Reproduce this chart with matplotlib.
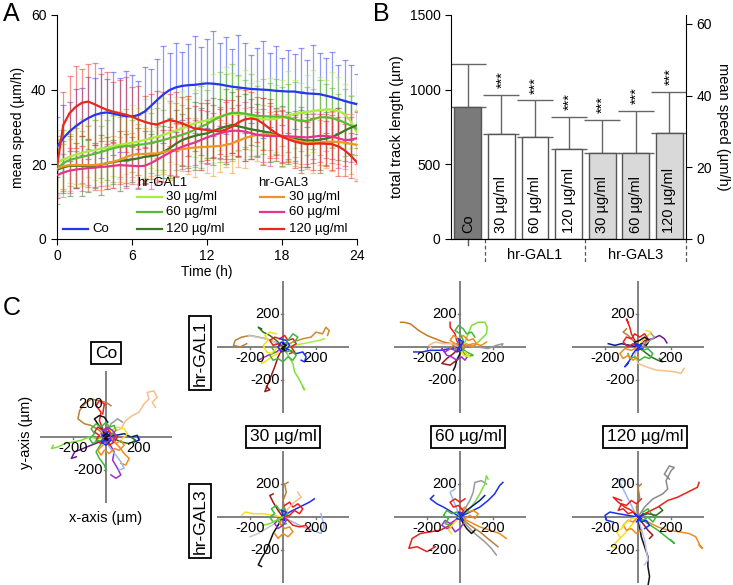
import numpy as np
import matplotlib
matplotlib.use("Agg")
import matplotlib.pyplot as plt

plt.rcParams['font.family'] = ['Liberation Sans', 'DejaVu Sans']
plt.rcParams['font.size'] = 10

W, H = 733, 585

# ---------------- panel A: mean speed over time ----------------
time_h = np.arange(0, 24.5, 0.5)

co_mean = [24.7, 27.0, 28.8, 30.2, 31.4, 32.4, 33.2, 33.7, 33.9, 33.6,
           33.2, 32.9, 32.8, 33.2, 34.1, 35.6, 37.2, 38.7, 39.9, 40.6,
           41.0, 41.2, 41.3, 41.5, 41.7, 41.6, 41.4, 41.1, 40.8, 40.6,
           40.4, 40.2, 40.1, 40.0, 39.9, 39.7, 39.6, 39.5, 39.5, 39.2,
           39.0, 38.9, 38.8, 38.4, 38.0, 37.5, 37.0, 36.5, 36.1]
co_sd = [8, 9, 8, 10, 9, 11, 10, 12, 9, 11, 10, 12, 11, 9, 12, 10, 11, 13, 10, 12,
         9, 11, 13, 10, 12, 14, 11, 13, 10, 14, 12, 9, 11, 13, 10, 12, 9, 11, 10, 12,
         9, 13, 11, 10, 12, 9, 11, 10, 8]

g1_30_mean = [20.3, 21.3, 22.0, 22.6, 23.1, 23.5, 23.8, 24.2, 24.5, 24.9,
              25.2, 25.5, 25.8, 26.1, 26.5, 26.9, 27.4, 27.9, 28.5, 29.0,
              29.6, 30.3, 31.0, 31.4, 31.8, 32.3, 32.8, 33.2, 33.5, 33.6,
              33.4, 32.9, 32.4, 32.1, 32.0, 32.2, 32.6, 33.1, 33.5, 33.8,
              34.0, 34.3, 34.5, 34.7, 34.7, 34.3, 33.5, 31.5, 28.5]
g1_30_sd = [9, 8, 7, 8, 9, 7, 8, 9, 10, 8, 9, 8, 10, 9, 11, 8, 9, 10, 8, 9,
            10, 8, 9, 11, 10, 12, 9, 13, 11, 10, 12, 9, 10, 8, 11, 9, 10, 12, 9, 8,
            10, 11, 9, 8, 10, 9, 8, 7, 6]

g1_60_mean = [18.9, 20.3, 21.2, 21.6, 22.0, 22.4, 22.8, 23.3, 23.8, 24.3,
              24.7, 24.9, 25.0, 25.2, 25.4, 25.7, 26.1, 26.5, 27.0, 27.4,
              27.9, 28.5, 29.2, 30.0, 30.8, 31.8, 32.6, 33.3, 33.8, 33.8,
              33.6, 33.3, 33.0, 32.9, 32.8, 32.8, 32.8, 32.4, 32.0, 31.6,
              31.6, 32.1, 32.6, 32.6, 32.4, 31.9, 31.2, 30.4, 29.5]
g1_60_sd = [8, 9, 7, 8, 7, 8, 9, 7, 8, 9, 8, 10, 7, 8, 9, 8, 9, 8, 10, 9,
            8, 9, 10, 11, 9, 10, 12, 11, 13, 10, 9, 11, 8, 10, 9, 10, 8, 9, 10, 8,
            9, 8, 10, 9, 8, 7, 9, 8, 7]

g1_120_mean = [18.5, 19.2, 19.6, 19.6, 19.6, 19.6, 19.6, 19.9, 20.3, 20.6,
               20.9, 21.1, 21.3, 21.6, 22.0, 22.2, 22.5, 23.3, 24.3, 25.5,
               26.5, 27.1, 27.6, 28.0, 28.3, 28.9, 29.6, 30.1, 30.5, 30.2,
               29.8, 29.4, 29.1, 28.8, 28.5, 28.0, 27.5, 27.1, 26.8, 26.6,
               26.4, 26.4, 26.6, 26.9, 27.3, 28.1, 29.0, 29.8, 30.5]
g1_120_sd = [9, 7, 8, 6, 8, 7, 6, 8, 7, 6, 8, 7, 6, 8, 7, 6, 8, 7, 8, 9,
             7, 8, 9, 7, 8, 9, 8, 10, 9, 8, 9, 8, 7, 9, 8, 7, 8, 7, 6, 8,
             7, 6, 8, 7, 6, 7, 8, 7, 6]

g3_30_mean = [18.9, 19.5, 19.8, 19.8, 19.8, 19.8, 19.8, 20.0, 20.3, 20.7,
              21.2, 21.9, 22.5, 22.7, 22.8, 22.9, 22.9, 23.3, 23.7, 23.9,
              24.1, 24.3, 24.5, 24.6, 24.7, 24.8, 24.9, 25.2, 25.6, 26.3,
              27.0, 27.5, 27.9, 28.0, 28.1, 27.8, 27.4, 27.0, 26.5, 26.1,
              25.8, 25.8, 25.9, 26.0, 26.1, 26.0, 25.8, 25.5, 25.2]
g3_30_sd = [7, 6, 7, 6, 5, 7, 6, 7, 6, 7, 6, 7, 6, 8, 7, 6, 7, 6, 8, 7,
            6, 7, 8, 6, 7, 8, 7, 6, 8, 7, 8, 6, 7, 8, 6, 7, 8, 6, 7, 6,
            7, 8, 6, 7, 8, 6, 7, 8, 9]

g3_60_mean = [17.1, 17.8, 18.3, 18.6, 18.8, 19.0, 19.1, 19.3, 19.4, 19.6,
              19.8, 19.7, 19.6, 19.5, 19.6, 20.3, 21.2, 22.2, 23.1, 24.0,
              24.7, 25.3, 25.8, 26.5, 27.2, 27.8, 28.3, 28.7, 29.0, 29.0,
              28.8, 28.4, 27.9, 27.7, 27.6, 27.6, 27.6, 27.5, 27.4, 27.3,
              27.2, 27.4, 27.6, 27.6, 27.4, 27.0, 26.5, 26.6, 27.0]
g3_60_sd = [6, 5, 6, 5, 6, 5, 6, 5, 6, 6, 5, 6, 5, 6, 5, 7, 6, 7, 6, 7,
            6, 7, 6, 8, 7, 6, 7, 8, 6, 7, 8, 7, 6, 7, 8, 6, 7, 6, 7, 8,
            7, 6, 7, 6, 7, 8, 7, 6, 7]

g3_120_mean = [19.4, 30.5, 33.7, 35.4, 36.5, 36.8, 36.1, 35.3, 34.6, 34.1,
               33.7, 33.3, 32.8, 32.0, 31.4, 30.9, 30.7, 31.3, 31.9, 31.5,
               31.0, 30.3, 29.6, 29.4, 29.2, 29.0, 28.8, 29.3, 30.1, 31.2,
               32.0, 32.3, 32.0, 30.9, 29.6, 28.4, 27.4, 26.7, 26.1, 25.7,
               25.4, 25.5, 25.6, 25.5, 25.4, 24.8, 23.8, 22.3, 20.5]
g3_120_sd = [7, 9, 10, 11, 9, 10, 11, 9, 10, 8, 9, 10, 8, 9, 7, 8, 9, 8, 7, 8,
             7, 8, 6, 7, 8, 7, 6, 8, 7, 9, 8, 7, 6, 7, 8, 6, 7, 6, 7, 8,
             6, 7, 8, 6, 7, 8, 7, 6, 5]

conc_labels = ["30 µg/ml", "60 µg/ml", "120 µg/ml"]

# ---------------- panel B: total track length ----------------
bar_labels = ["Co", "30 µg/ml", "60 µg/ml", "120 µg/ml",
              "30 µg/ml", "60 µg/ml", "120 µg/ml"]
track_len = [885, 705, 685, 600, 578, 578, 712]
track_sd = [285, 262, 243, 220, 220, 280, 273]
group_names = ["hr-GAL1", "hr-GAL3"]

# ---------------- panel C: cell tracks (x, y pairs in µm) ----------------
tracks_co = [
    [0, 0, 40, 30, 90, 50, 120, 100, 160, 130, 200, 150, 230, 200, 260, 230, 250, 270, 290, 280, 310, 240, 280, 210, 300, 180],
    [0, 0, -40, 40, -90, 70, -130, 80, -170, 110, -160, 160, -130, 200, -90, 230, -40, 220, 0, 210, 30, 190],
    [0, 0, -20, 50, -40, 100, -30, 150, -60, 190, -40, 220, -10, 200, -20, 140],
    [0, 0, -50, -10, -100, 0, -150, -20, -200, -30, -250, -40, -290, -60, -330, -70, -320, -50],
    [0, 0, 20, -40, 50, -90, 40, -140, 70, -190, 90, -230, 60, -250, 30, -230],
    [0, 0, 40, -20, 80, -60, 110, -100, 140, -130, 120, -170, 90, -160],
    [0, 0, -40, -30, -90, -50, -140, -70, -190, -90, -210, -130, -180, -120],
    [0, 0, 20, -60, 60, -110, 90, -150, 110, -190, 80, -200],
    [0, 0, 60, 10, 110, 20, 150, 0, 190, 10, 200, -20, 170, -30],
    [0, 0, -20, 40, -50, 80, -70, 110, -40, 130, -10, 120, 10, 90],
    [0, 0, 30, 40, 70, 60, 110, 50, 130, 20, 100, -10],
    [0, 0, 50, -10, 90, -30, 140, -40, 180, -20, 150, 0],
    [0, 0, -30, -40, -60, -90, -40, -130, -10, -170, 0, -200],
    [0, 0, 30, 80, 70, 110, 100, 90],
    [0, 0, 30, 20, 10, 50, -20, 40, -50, 60, -70, 30, -40, 10, -60, -20, -30, -40, 0, -20, 20, -50, 50, -30, 70, 0, 40, 20],
    [0, 0, -20, -30, -50, -20, -80, -40, -100, -10, -70, 20, -90, 50, -60, 80, -30, 60, 0, 90, 20, 60, 50, 70, 60, 40, 30, 10],
    [0, 0, 40, -10, 60, -40, 90, -20, 110, -50, 80, -80, 50, -70, 20, -100, -10, -80, -30, -110, -50, -80, -20, -50],
    [0, 0, -30, 20, -10, -30, 30, -20, 20, 30, -20, 40, 10, 60, 40, 40, 60, 10, 40, -30],
    [0, 0, -20, 10, 10, 30, -10, -20, 20, -10, -30, -30, 0, -50, 30, -20],
    [0, 0, 10, -20, -10, -10, 20, 10, 0, 20, -15, 5],
]
tracks_g1_30 = [
    [0, 0, -50, 30, -100, 50, -150, 60, -200, 70, -250, 60, -290, 40, -300, 10, -260, 0, -220, 20],
    [0, 0, 60, 30, 120, 50, 170, 60, 200, 90, 240, 80, 260, 120, 280, 100, 270, 70],
    [0, 0, 30, -50, 60, -100, 70, -150, 100, -200, 130, -260, 120, -240],
    [0, 0, 60, 10, 120, 20, 170, 30, 220, 40, 250, 50],
    [0, 0, -30, -60, -50, -120, -70, -170, -90, -220, -110, -270, -80, -260, -100, -240],
    [0, 0, -40, 40, -80, 70, -120, 90, -150, 120, -130, 110],
    [0, 0, 40, -20, 80, -40, 120, -30, 140, -60, 130, -90, 110, -80],
    [0, 0, -40, -30, -90, -50, -130, -70, -150, -80],
    [0, 0, -30, -40, -70, -60, -110, -90, -130, -100, -120, -60],
    [0, 0, -50, 30, -110, 50, -160, 60, -210, 70],
    [0, 0, -30, 20, -60, 10, -80, 40, -50, 60, -20, 50, 10, 70, 30, 40, 60, 50, 80, 20, 50, 0, 70, -30, 40, -40],
    [0, 0, 20, -30, 50, -20, 80, -50, 60, -80, 30, -60, 0, -90, -30, -70, -60, -80, -80, -50, -50, -30, -70, 0],
    [0, 0, -40, -10, -70, -40, -100, -30, -120, 10, -90, 40, -110, 70, -80, 90, -40, 80],
    [0, 0, 20, 20, -10, 30, -30, 0, -10, -30, 20, -20, 40, 10, 20, 40, -20, 50],
    [0, 0, 30, 40, 60, 80, 90, 60, 70, 30],
    [0, 0, 10, -20, -10, -10, 20, 10, 0, 20],
]
tracks_g1_60 = [
    [0, 0, -50, 20, -100, 30, -150, 50, -200, 70, -250, 100, -300, 140, -340, 150, -360, 150],
    [0, 0, 30, 30, 50, 80, 70, 130, 110, 150, 150, 150, 165, 120, 160, 80, 120, 40, 80, 0],
    [0, 0, 50, 10, 110, 0, 170, -10, 220, 10, 260, 20, 250, 0],
    [0, 0, -60, -10, -120, -20, -180, -20, -230, -30, -280, -30],
    [0, 0, -40, -40, -80, -70, -110, -100, -60, -110, -20, -80],
    [0, 0, -50, 20, -100, 20, -150, 30, -190, 10, -170, -10],
    [0, 0, 0, -40, -20, -80, -30, -120, -40, -140],
    [0, 0, -20, 40, -30, 80, -60, 120, -60, 150],
    [0, 0, 40, 10, 80, 20, 130, 10, 160, 30],
    [0, 0, 40, 20, 70, 0, 100, 20, 80, 50, 50, 40, 20, 70, -10, 50, -40, 70, -60, 40, -30, 20],
    [0, 0, -30, -20, -60, -10, -90, -30, -110, -10, -80, -50, -50, -60, -20, -80, 10, -60, 30, -80, 50, -50],
    [0, 0, 20, 40, 0, 80, -30, 100, -10, 130, 20, 110, 40, 80, 70, 90, 90, 60],
    [0, 0, -20, 20, 10, 30, 30, 0, 10, -30, -20, -20, -40, 10, -60, -10],
    [0, 0, 40, -30, 80, -50, 40, -60, 20, -30],
    [0, 0, 20, -50, 60, -60, 30, -30],
    [0, 0, 20, 30, -10, 50, 10, -20, -20, -30, 0, 10],
]
tracks_g1_120 = [
    [0, 0, -20, -50, 0, -100, 50, -120, 110, -140, 170, -145, 220, -150, 260, -160, 280, -130],
    [0, 0, -20, 40, -40, 80, -50, 120, -70, 170, -60, 150],
    [0, 0, 40, -30, 80, -60, 120, -80, 150, -90, 130, -70],
    [0, 0, 40, 40, 90, 50, 130, 70, 160, 50, 175, 25],
    [0, 0, -30, -40, -50, -80, -80, -120, -60, -100],
    [0, 0, -50, 10, -100, 20, -140, 10, -180, 20],
    [0, 0, -30, 40, -60, 70, -90, 90, -70, 110],
    [0, 0, 30, 40, 60, 70, 80, 90, 50, 100],
    [0, 0, -30, 20, -60, 0, -90, 30, -70, 60, -40, 50, -20, 80, 10, 60, 40, 80, 60, 50, 40, 20],
    [0, 0, 30, -20, 60, -10, 90, -40, 70, -70, 40, -60, 10, -80, -20, -60, -50, -70, -60, -40],
    [0, 0, -40, -20, -80, -10, -110, -40, -90, -70, -60, -50, -30, -80, 0, -60],
    [0, 0, 20, 20, 50, 10, 70, 40, 40, 60, 10, 40, -20, 30],
    [0, 0, 60, 30, 100, 60, 80, 80],
    [0, 0, -20, 20, 20, 10, -10, -20, 30, -10],
]
tracks_g3_30 = [
    [0, 0, -30, -50, -60, -100, -80, -150, -100, -200, -130, -250, -150, -290, -130, -300],
    [0, 0, 40, 30, 80, 50, 120, 70, 160, 90, 190, 110],
    [0, 0, -60, 10, -120, 20, -180, 20, -230, 30, -250, 10],
    [0, 0, 60, -30, 120, -60, 180, -80, 230, -100, 250, -60, 240, -20, 230, 20],
    [0, 0, -50, -40, -100, -70, -150, -100, -200, -120],
    [0, 0, 10, 50, 0, 100, 20, 150, 10, 200, 30, 210],
    [0, 0, -30, 40, -60, 90, -80, 130, -60, 140],
    [0, 0, 30, 20, 10, 50, -20, 40, -40, 70, -70, 50, -50, 20, -80, 0, -60, -30, -30, -20, -10, -50, 20, -40],
    [0, 0, -20, -40, 10, -70, 40, -60, 60, -90, 30, -120, 0, -100, -30, -130, -50, -100],
    [0, 0, 40, 10, 70, 40, 100, 20, 120, 50, 90, 80, 60, 60, 40, 90, 10, 70],
    [0, 0, -30, -10, -50, -40, -30, -70, 0, -50, 20, -20],
    [0, 0, 30, -20, 60, -50, 100, -60, 140, -50, 160, -80],
    [0, 0, 30, 50, 70, 90, 110, 120, 90, 150],
    [0, 0, 20, 30, -10, 40, 10, -20, -20, -10],
    [0, 0, -40, -20, -80, -40, -120, -50],
]
tracks_g3_60 = [
    [0, 0, -60, -50, -120, -80, -180, -90, -240, -100, -290, -130, -310, -190, -260, -180, -200, -210, -150, -180],
    [0, 0, 30, 50, 60, 100, 80, 150, 90, 210, 130, 220, 160, 200],
    [0, 0, 50, 40, 90, 90, 120, 140, 150, 200, 160, 250, 170, 230],
    [0, 0, 60, 30, 120, 60, 170, 100, 210, 140, 240, 190, 260, 210],
    [0, 0, 40, -50, 90, -100, 150, -150, 190, -190, 220, -230],
    [0, 0, 60, -30, 120, -60, 180, -80, 240, -100, 280, -130],
    [0, 0, -50, 30, -100, 60, -140, 80, -180, 110, -160, 130],
    [0, 0, -20, 50, -40, 100, -60, 150, -30, 170],
    [0, 0, 60, -50, 120, -90, 180, -140, 230, -180],
    [0, 0, 20, -40, 40, -70, 70, -100, 90, -80],
    [0, 0, -30, -20, -60, -40, -90, -20, -110, -50, -80, -70, -50, -60, -30, -90, 0, -70, 20, -40],
    [0, 0, 30, -10, 60, 10, 90, -10, 110, 20, 80, 40, 50, 30, 30, 60, 0, 40],
    [0, 0, -20, 30, -50, 20, -80, 40, -100, 10, -70, -10, -90, -40, -60, -50],
    [0, 0, 20, 40, -10, 70, -40, 60, -60, 90, -30, 110, 0, 90, 30, 110],
    [0, 0, -40, -40, -70, -80, -50, -100],
    [0, 0, 40, 40, 80, 70, 120, 100, 150, 130],
    [0, 0, 20, 20, -10, 30, 20, -20, -20, -10],
]
tracks_g3_120 = [
    [0, 0, 10, -60, 20, -120, 40, -180, 60, -240, 60, -300, 70, -360, 60, -420],
    [0, 0, 40, 60, 90, 110, 150, 140, 180, 170, 170, 220, 200, 280, 220, 300, 190, 310, 160, 260, 190, 230],
    [0, 0, 60, 30, 120, 60, 180, 100, 240, 120, 300, 150, 360, 180, 370, 210],
    [0, 0, 60, -30, 120, -60, 180, -80, 250, -90, 310, -100, 350, -120, 380, -180, 390, -190, 370, -170],
    [0, 0, -60, 10, -120, 20, -170, 30, -200, 10, -190, -20, -150, -30],
    [0, 0, -30, 50, -60, 110, -90, 170, -120, 230, -80, 220],
    [0, 0, -40, -50, -80, -100, -120, -140, -160, -180, -130, -190],
    [0, 0, 20, -70, 40, -140, 50, -200, 60, -260, 40, -290],
    [0, 0, 60, -40, 120, -80, 170, -120, 220, -160, 200, -140],
    [0, 0, -10, 60, 10, 120, 0, 180, 20, 200],
    [0, 0, -30, 30, -60, 20, -90, 50, -120, 40, -100, 80, -70, 70, -40, 100, -10, 80, 20, 110],
    [0, 0, 30, -20, 60, 0, 90, -30, 110, 0, 80, 20, 60, 50, 30, 30],
    [0, 0, -30, -30, -60, -20, -90, -50, -70, -80, -40, -70, -10, -100, 20, -80],
    [0, 0, -40, -10, -80, -40, -100, -70, -130, -90, -110, -120],
    [0, 0, -40, 40, -80, 60, -120, 90, -150, 120, -100, 100],
    [0, 0, 30, -40, 60, -80, 90, -110, 70, -130],
    [0, 0, 60, 20, 110, 10, 150, 40, 130, 60],
    [0, 0, 20, -30, 50, -20, 70, -50, 40, -70],
    [0, 0, -20, 20, 20, -10, -10, -30, 30, 20],
]

# colours for the tracks (style only)
colors_co = ["#f5c08a", "#b8803a", "#e8201a", "#7ee03a", "#9b30d0", "#f08c1e", "#6a1a8a", "#9ab8f0",
             "#0a1a90", "#111111", "#f5e01e", "#2a7020", "#3cb83c", "#9a9a9a",
             "#e8201a", "#3cb83c", "#f08c1e", "#9b30d0", "#1a2ff0", "#111111"]
colors_g1_30 = ["#b8803a", "#d08a30", "#7ee03a", "#a8f040", "#a01818", "#2a7020", "#1a2ff0",
                "#9b30d0", "#f5e01e", "#c8c8c8", "#e8201a", "#3cb83c", "#f5e01e", "#1a2ff0",
                "#3cb83c", "#111111"]
colors_g1_60 = ["#c87a20", "#7ee03a", "#9a9a9a", "#1a2ff0", "#a01818", "#f5c08a",
                "#111111", "#e8201a", "#f08c1e", "#f08c1e", "#9b30d0", "#3cb83c", "#b8803a",
                "#3cb83c", "#f5e01e", "#1a2ff0"]
colors_g1_120 = ["#f5c08a", "#e8201a", "#2a7020", "#6a1a8a", "#1a2ff0", "#0a1a90", "#b8803a",
                 "#f5e01e", "#e8201a", "#3cb83c", "#f08c1e", "#111111", "#9a9a9a", "#1a2ff0"]
colors_g3_30 = ["#111111", "#1a2ff0", "#f5e01e", "#9ab8f0", "#c8c8c8", "#b8803a", "#a01818",
                "#3cb83c", "#f08c1e", "#e8201a", "#9b30d0", "#e8201a", "#f5c08a", "#1a2ff0", "#7ee03a"]
colors_g3_60 = ["#e8201a", "#9a9a9a", "#7ee03a", "#1a2ff0", "#9a9a9a", "#f08c1e", "#1a2ff0",
                "#9ab8f0", "#b8803a", "#111111", "#9b30d0", "#f08c1e", "#3cb83c", "#e8201a",
                "#f5e01e", "#0a1a90", "#1a2ff0"]
colors_g3_120 = ["#111111", "#8a8a8a", "#e8201a", "#f08c1e", "#1a2ff0", "#9ab8f0", "#f5e01e",
                 "#c0c0f0", "#3cb83c", "#b8803a", "#e8201a", "#3cb83c", "#f08c1e", "#f5e01e",
                 "#e8201a", "#a01818", "#2a7020", "#1a2ff0", "#1a2ff0"]

fig = plt.figure(figsize=(W / 100, H / 100), dpi=100)


def px_axes(left, top, width, height):
    return fig.add_axes([left / W, 1 - (top + height) / H, width / W, height / H])


# ================= panel A =================
axa = px_axes(57, 15, 300, 224)
series = [
    (co_mean, co_sd, "#2436f2"),
    (g1_30_mean, g1_30_sd, "#a8ee3c"),
    (g1_60_mean, g1_60_sd, "#5cbb36"),
    (g1_120_mean, g1_120_sd, "#3a7a20"),
    (g3_30_mean, g3_30_sd, "#f09424"),
    (g3_60_mean, g3_60_sd, "#e4348c"),
    (g3_120_mean, g3_120_sd, "#e8281c"),
]
for mean, sd, c in series:
    axa.errorbar(time_h, mean, yerr=sd, fmt='none', ecolor=c, elinewidth=0.9,
                 capsize=2.4, capthick=0.9, alpha=0.5, zorder=1)
for mean, sd, c in series:
    axa.plot(time_h, mean, color=c, lw=1.6, zorder=3)

axa.set_xlim(0, 24)
axa.set_ylim(0, 60)
axa.set_xticks([0, 6, 12, 18, 24])
axa.set_yticks([0, 20, 40, 60])
axa.spines['top'].set_visible(False)
axa.spines['right'].set_visible(False)
axa.tick_params(direction='out', length=4, labelsize=10)
axa.set_xlabel("Time (h)", fontsize=10, labelpad=1)
axa.set_ylabel("mean speed (µm/h)", fontsize=10, labelpad=4)


def fx(px):
    return (px - 57) / 300


def fy(py):
    return (239 - py) / 224


leg_kw = dict(transform=axa.transAxes, clip_on=False, lw=1.6, zorder=4)
txt_kw = dict(transform=axa.transAxes, fontsize=9.5, va='center', ha='left', zorder=4)
rows = [197, 212, 229]
axa.text(fx(137), fy(183), "hr-GAL1", **txt_kw)
axa.text(fx(258), fy(183), "hr-GAL3", **txt_kw)
for i, lab in enumerate(conc_labels):
    axa.plot([fx(137), fx(162)], [fy(rows[i])] * 2, color=series[1 + i][2], **leg_kw)
    axa.text(fx(166), fy(rows[i]), lab, **txt_kw)
    axa.plot([fx(260), fx(284)], [fy(rows[i])] * 2, color=series[4 + i][2], **leg_kw)
    axa.text(fx(289), fy(rows[i]), lab, **txt_kw)
axa.plot([fx(63), fx(88)], [fy(229)] * 2, color=series[0][2], **leg_kw)
axa.text(fx(92), fy(229), "Co", **txt_kw)

# ================= panel B =================
axb = px_axes(451, 15, 235, 224)
xb = np.arange(len(track_len))
bar_colors = ["#7a7a7a"] + ["#ffffff"] * 3 + ["#d9d9d9"] * 3
axb.bar(xb, track_len, width=0.8, color=bar_colors, edgecolor="#555555", linewidth=1, zorder=2)
axb.errorbar(xb, track_len, yerr=[np.zeros(len(track_sd)), track_sd], fmt='none',
             ecolor="#666666", elinewidth=1, capsize=13, capthick=1, zorder=1)
for i, lab in enumerate(bar_labels):
    axb.text(xb[i], 40, lab, rotation=90, ha='center', va='bottom', fontsize=10.5, zorder=3)
    if i > 0:
        axb.text(xb[i] + 0.03, track_len[i] + track_sd[i] + 45, "***", rotation=90,
                 ha='center', va='bottom', fontsize=10.5)
axb.set_xlim(-0.5, len(track_len) - 0.5)
axb.set_ylim(0, 1500)
axb.set_yticks([0, 500, 1000, 1500])
axb.set_xticks([])
axb.spines['top'].set_visible(False)
axb.spines['right'].set_visible(False)
axb.tick_params(direction='out', length=4, labelsize=10)
axb.set_ylabel("total track length (µm)", fontsize=10.5, labelpad=4)

axr = axb.twinx()
axr.set_ylim(0, 1500 / 24)
axr.set_yticks([0, 20, 40, 60])
axr.spines['top'].set_visible(False)
axr.spines['left'].set_visible(False)
axr.tick_params(direction='out', length=4, labelsize=10)
axr.set_ylabel("mean speed (µm/h)", fontsize=10.5, rotation=270, labelpad=13)

# group annotation below the bars
sep_kw = dict(color="#555555", lw=0.9, ls=(0, (3, 2)), clip_on=False)
for xs in (0.5, 3.5, 6.5):
    axb.plot([xs, xs], [0, -165], **sep_kw)
axb.plot([0, 0], [0, -40], color="#555555", lw=1, clip_on=False)
axb.text(2, -107, group_names[0], ha='center', va='center', fontsize=10.5)
axb.text(5, -107, group_names[1], ha='center', va='center', fontsize=10.5)


# ================= panel C =================
def track_panel(cx, cy, tracks, colors):
    ax = px_axes(cx - 66, cy - 66, 132, 132)
    ax.set_xlim(-400, 400)
    ax.set_ylim(-400, 400)
    ax.axis('off')
    ax.axhline(0, color="#777777", lw=1.3, zorder=1)
    ax.axvline(0, color="#777777", lw=1.3, zorder=1)
    for tr, c in zip(tracks, colors):
        ax.plot(tr[0::2], tr[1::2], color=c, lw=1.1, zorder=2, clip_on=False)
    for v in (-200, 200):
        ax.plot([v, v], [0, -14], color="#777777", lw=1, zorder=1)
        ax.plot([-14, 0], [v, v], color="#777777", lw=1, zorder=1)
        ax.text(v, -22, str(v), ha='center', va='top', fontsize=10.5, zorder=3)
        ax.text(-18, v, str(v), ha='right', va='center', fontsize=10.5, zorder=3)
    return ax


track_panel(106, 437, tracks_co, colors_co)
track_panel(283, 347, tracks_g1_30, colors_g1_30)
track_panel(460, 347, tracks_g1_60, colors_g1_60)
track_panel(638, 347, tracks_g1_120, colors_g1_120)
track_panel(283, 517, tracks_g3_30, colors_g3_30)
track_panel(460, 517, tracks_g3_60, colors_g3_60)
track_panel(638, 517, tracks_g3_120, colors_g3_120)

box = dict(boxstyle='square,pad=0.22', fc='white', ec='black', lw=1.3)
fig.text(106 / W, 1 - 353 / H, "Co", ha='center', va='center', fontsize=12.5, bbox=box)
fig.text(200 / W, 1 - 353 / H, "hr-GAL1", ha='center', va='center', rotation=90, fontsize=12.5, bbox=box)
fig.text(200 / W, 1 - 521 / H, "hr-GAL3", ha='center', va='center', rotation=90, fontsize=12.5, bbox=box)
fig.text(283 / W, 1 - 437 / H, conc_labels[0], ha='center', va='center', fontsize=12.5, bbox=box)
fig.text(468 / W, 1 - 437 / H, conc_labels[1], ha='center', va='center', fontsize=12.5, bbox=box)
fig.text(645 / W, 1 - 437 / H, conc_labels[2], ha='center', va='center', fontsize=12.5, bbox=box)
fig.text(26 / W, 1 - 432 / H, "y-axis (µm)", ha='center', va='center', rotation=90, fontsize=10.5)
fig.text(106 / W, 1 - 518 / H, "x-axis (µm)", ha='center', va='center', fontsize=10.5)

# panel letters
fig.text(3 / W, 1 - 2 / H, "A", fontsize=18, ha='left', va='top')
fig.text(373 / W, 1 - 2 / H, "B", fontsize=18, ha='left', va='top')
fig.text(3 / W, 1 - 296 / H, "C", fontsize=18, ha='left', va='top')

fig.savefig("out.png", dpi=100)
